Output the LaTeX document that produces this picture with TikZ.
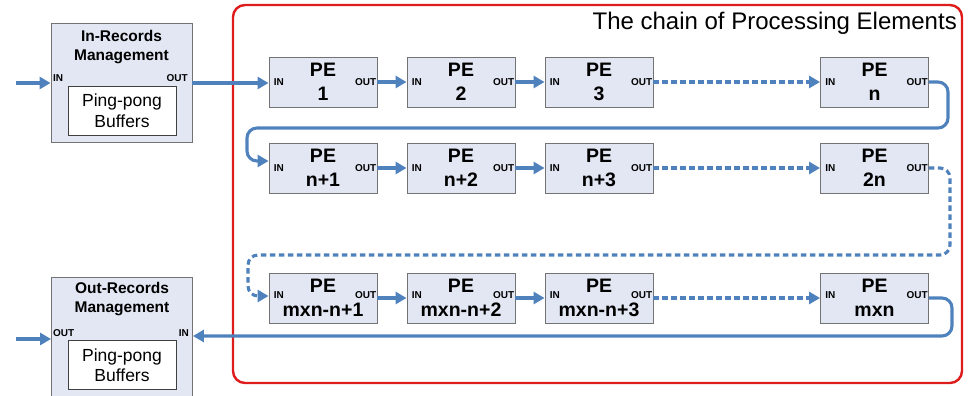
\documentclass[tikz,border=0pt]{standalone}
\usepackage{fontspec}
\setmainfont{Liberation Sans}
\usetikzlibrary{arrows.meta}
\definecolor{flow}{RGB}{79,129,189}
\definecolor{boxfill}{RGB}{226,231,243}
\definecolor{boxline}{RGB}{115,115,115}
\definecolor{framered}{RGB}{222,28,28}
\begin{document}
\begin{tikzpicture}[x=1pt,y=-1pt,
  pebox/.style={draw=boxline, fill=boxfill, line width=0.9pt, minimum width=108pt, minimum height=50pt, inner sep=0pt, align=center, font=\fontsize{19.5}{24}\selectfont\bfseries},
  mgmt/.style={draw=boxline, fill=boxfill, line width=0.9pt, minimum width=141pt, inner sep=0pt},
  mgtitle/.style={font=\fontsize{15.5}{19}\selectfont\bfseries, align=center, inner sep=0pt, anchor=north},
  bufbox/.style={draw=black!75, fill=white, line width=0.9pt, minimum width=108pt, minimum height=49pt, inner sep=0pt, align=center, font=\fontsize{17.5}{20.5}\selectfont},
  port/.style={font=\fontsize{10}{12}\selectfont\bfseries, inner sep=0pt},
  flowarr/.style={draw=flow, line width=3.1pt, -{Triangle[length=11pt,width=12pt]}},
  dashflow/.style={flowarr, dash pattern=on 5.5pt off 3.5pt},
  chainframe/.style={draw=framered, line width=2.4pt, rounded corners=12pt}
]
\useasboundingbox (0,0) rectangle (969,396);
\clip (0,0) rectangle (969,396);

% frame
\draw[chainframe] (233,5) rectangle (962,383);
\node[font=\fontsize{24}{28}\selectfont, inner sep=0pt, anchor=base east] (title) at (957,30) {The chain of Processing Elements};

% In-Records Management
\node[mgmt, minimum height=119pt] (inrec) at (121.5,82.5) {};
\node[mgtitle] (intitle) at (121.5,30) {In-Records\\Management};
\node[bufbox] (inbuf) at (122,110.5) {Ping-pong\\Buffers};
\node[port, anchor=west] (inrecin) at (53,78) {IN};
\node[port, anchor=east] (inrecout) at (188,78) {OUT};

% Out-Records Management
\node[mgmt, minimum height=133pt] (outrec) at (122,343.5) {};
\node[mgtitle] (outtitle) at (122,282) {Out-Records\\Management};
\node[bufbox] (outbuf) at (122,365) {Ping-pong\\Buffers};
\node[port, anchor=west] (outrecout) at (53,333) {OUT};
\node[port, anchor=east] (outrecin) at (189,333) {IN};

% PE boxes
\foreach \r/\y in {1/82,2/168,3/298}{
  \foreach \c/\x in {1/323,2/461,3/599,4/874.5}{
    \node[pebox] (pe\r\c) at (\x,\y) {};
  }
}
\node[pebox] (t11) at (pe11) {PE\\1};
\node[pebox] (t12) at (pe12) {PE\\2};
\node[pebox] (t13) at (pe13) {PE\\3};
\node[pebox] (t14) at (pe14) {PE\\n};
\node[pebox] (t21) at (pe21) {PE\\n+1};
\node[pebox] (t22) at (pe22) {PE\\n+2};
\node[pebox] (t23) at (pe23) {PE\\n+3};
\node[pebox] (t24) at (pe24) {PE\\2n};
\node[pebox] (t31) at (pe31) {PE\\mxn-n+1};
\node[pebox] (t32) at (pe32) {PE\\mxn-n+2};
\node[pebox] (t33) at (pe33) {PE\\mxn-n+3};
\node[pebox] (t34) at (pe34) {PE\\mxn};

% ports
\foreach \r/\s in {1/0pt,2/0pt,3/3pt}{
  \foreach \c in {1,2,3,4}{
    \node[port, anchor=west] (in\r\c) at ([xshift=5pt,yshift=\s]pe\r\c.west) {IN};
    \node[port, anchor=east] (out\r\c) at ([xshift=-1pt,yshift=\s]pe\r\c.east) {OUT};
  }
}

% inputs
\coordinate (srcA) at (16,83);
\coordinate (srcB) at (16,339);
\draw[flowarr] (srcA) -- (inrec.west |- srcA);
\draw[flowarr] (srcB) -- (outrec.west |- srcB);
\draw[flowarr] (inrec.east |- srcA) -- (pe11.west |- srcA);

% row connectors
\draw[flowarr] (pe11.east) -- (pe12.west);
\draw[flowarr] (pe12.east) -- (pe13.west);
\draw[dashflow] (pe13.east) -- (pe14.west);
\draw[flowarr] (pe21.east) -- (pe22.west);
\draw[flowarr] (pe22.east) -- (pe23.west);
\draw[dashflow] (pe23.east) -- (pe24.west);
\draw[flowarr] (pe31.east) -- (pe32.west);
\draw[flowarr] (pe32.east) -- (pe33.west);
\draw[dashflow] (pe33.east) -- (pe34.west);

% loops
\draw[flowarr, rounded corners=10pt] (pe14.east) -- (948,82) -- (948,128) -- (247,128) -- (247,161) -- ([yshift=7pt]pe21.west);
\draw[dashflow, rounded corners=10pt] (pe24.east) -- (950,168) -- (950,255) -- (248,255) -- (248,296) -- ([yshift=2pt]pe31.west);
\coordinate (back) at (952,336);
\draw[flowarr, rounded corners=10pt] (pe34.east) -- (952,298) -- (back) -- (outrec.east |- back);
\end{tikzpicture}
\end{document}
